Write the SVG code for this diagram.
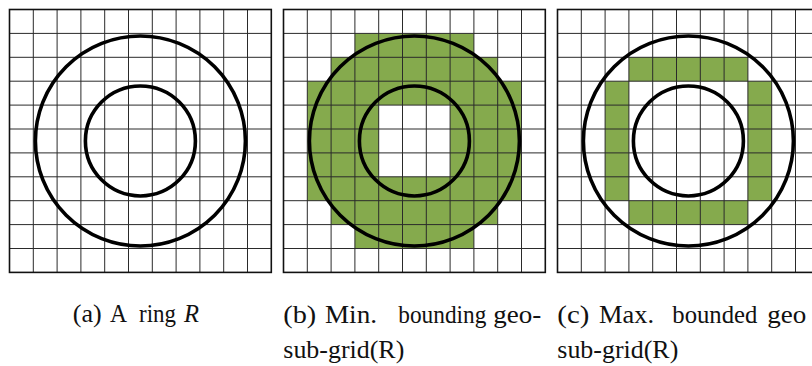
<svg xmlns="http://www.w3.org/2000/svg" xmlns:xlink="http://www.w3.org/1999/xlink" width="812" height="366" viewBox="0 0 812 366">
<style>
.grid{fill:none;stroke:#2a2a2a;stroke-width:1}
.border{fill:none;stroke:#111;stroke-width:1.6}
.ring{fill:none;stroke:#000;stroke-width:3.6}
.fill{fill:#85aa4d;stroke:none}
.cap{font-family:"Liberation Serif","Times New Roman",serif;font-size:24.5px;fill:#111}
</style>
<defs>
<g id="gridlines">
<path class="grid" d="M23.8 0V262.9M47.6 0V262.9M71.4 0V262.9M95.2 0V262.9M119 0V262.9M142.8 0V262.9M166.6 0V262.9M190.4 0V262.9M214.2 0V262.9M238 0V262.9M0 23.9H261.8M0 47.8H261.8M0 71.7H261.8M0 95.6H261.8M0 119.5H261.8M0 143.4H261.8M0 167.3H261.8M0 191.2H261.8M0 215.1H261.8M0 239H261.8"/>
<rect class="border" x="0" y="0" width="261.8" height="262.9"/>
</g>
<g id="rings">
<circle class="ring" cx="130.9" cy="131.45" r="105"/>
<circle class="ring" cx="130.9" cy="131.45" r="55"/>
</g>
</defs>
<g id="panel-a" transform="translate(9.5,9.5)">
<use xlink:href="#gridlines"/>
<use xlink:href="#rings"/>
</g>
<g id="panel-b" transform="translate(283.5,9.5)">
<path class="fill" d="M71.4 23.9h119v23.9h-119zM47.6 47.8h166.6v23.9h-166.6zM23.8 71.7h214.2v23.9h-214.2zM23.8 95.6h71.4v71.7h-71.4zM166.6 95.6h71.4v71.7h-71.4zM23.8 167.3h214.2v23.9h-214.2zM47.6 191.2h166.6v23.9h-166.6zM71.4 215.1h119v23.9h-119z"/>
<use xlink:href="#gridlines"/>
<use xlink:href="#rings"/>
</g>
<g id="panel-c" transform="translate(557.5,9.5)">
<path class="fill" d="M71.4 47.8h119v23.9h-119zM47.6 71.7h23.8v119.5h-23.8zM190.4 71.7h23.8v119.5h-23.8zM71.4 191.2h119v23.9h-119z"/>
<use xlink:href="#gridlines"/>
<use xlink:href="#rings"/>
</g>
<g id="captions">
<text class="cap" x="72.7" y="322" textLength="29" lengthAdjust="spacingAndGlyphs">(a)</text>
<text class="cap" x="110" y="322" textLength="17" lengthAdjust="spacingAndGlyphs">A</text>
<text class="cap" x="139" y="322" textLength="37" lengthAdjust="spacingAndGlyphs">ring</text>
<text class="cap" x="184" y="322" font-style="italic" font-size="26px">R</text>
<text class="cap" x="283.3" y="323" textLength="33" lengthAdjust="spacingAndGlyphs">(b)</text>
<text class="cap" x="325" y="323" textLength="52" lengthAdjust="spacingAndGlyphs">Min.</text>
<text class="cap" x="398.3" y="323" textLength="88" lengthAdjust="spacingAndGlyphs">bounding</text>
<text class="cap" x="493.3" y="323" textLength="48" lengthAdjust="spacingAndGlyphs">geo-</text>
<text class="cap" x="283.3" y="358" textLength="121" lengthAdjust="spacingAndGlyphs">sub-grid(R)</text>
<text class="cap" x="557.3" y="323" textLength="32" lengthAdjust="spacingAndGlyphs">(c)</text>
<text class="cap" x="599" y="323" textLength="55" lengthAdjust="spacingAndGlyphs">Max.</text>
<text class="cap" x="672.3" y="323" textLength="85" lengthAdjust="spacingAndGlyphs">bounded</text>
<text class="cap" x="767.3" y="323" textLength="39" lengthAdjust="spacingAndGlyphs">geo</text>
<text class="cap" x="557.3" y="358" textLength="121" lengthAdjust="spacingAndGlyphs">sub-grid(R)</text>
</g>
</svg>
